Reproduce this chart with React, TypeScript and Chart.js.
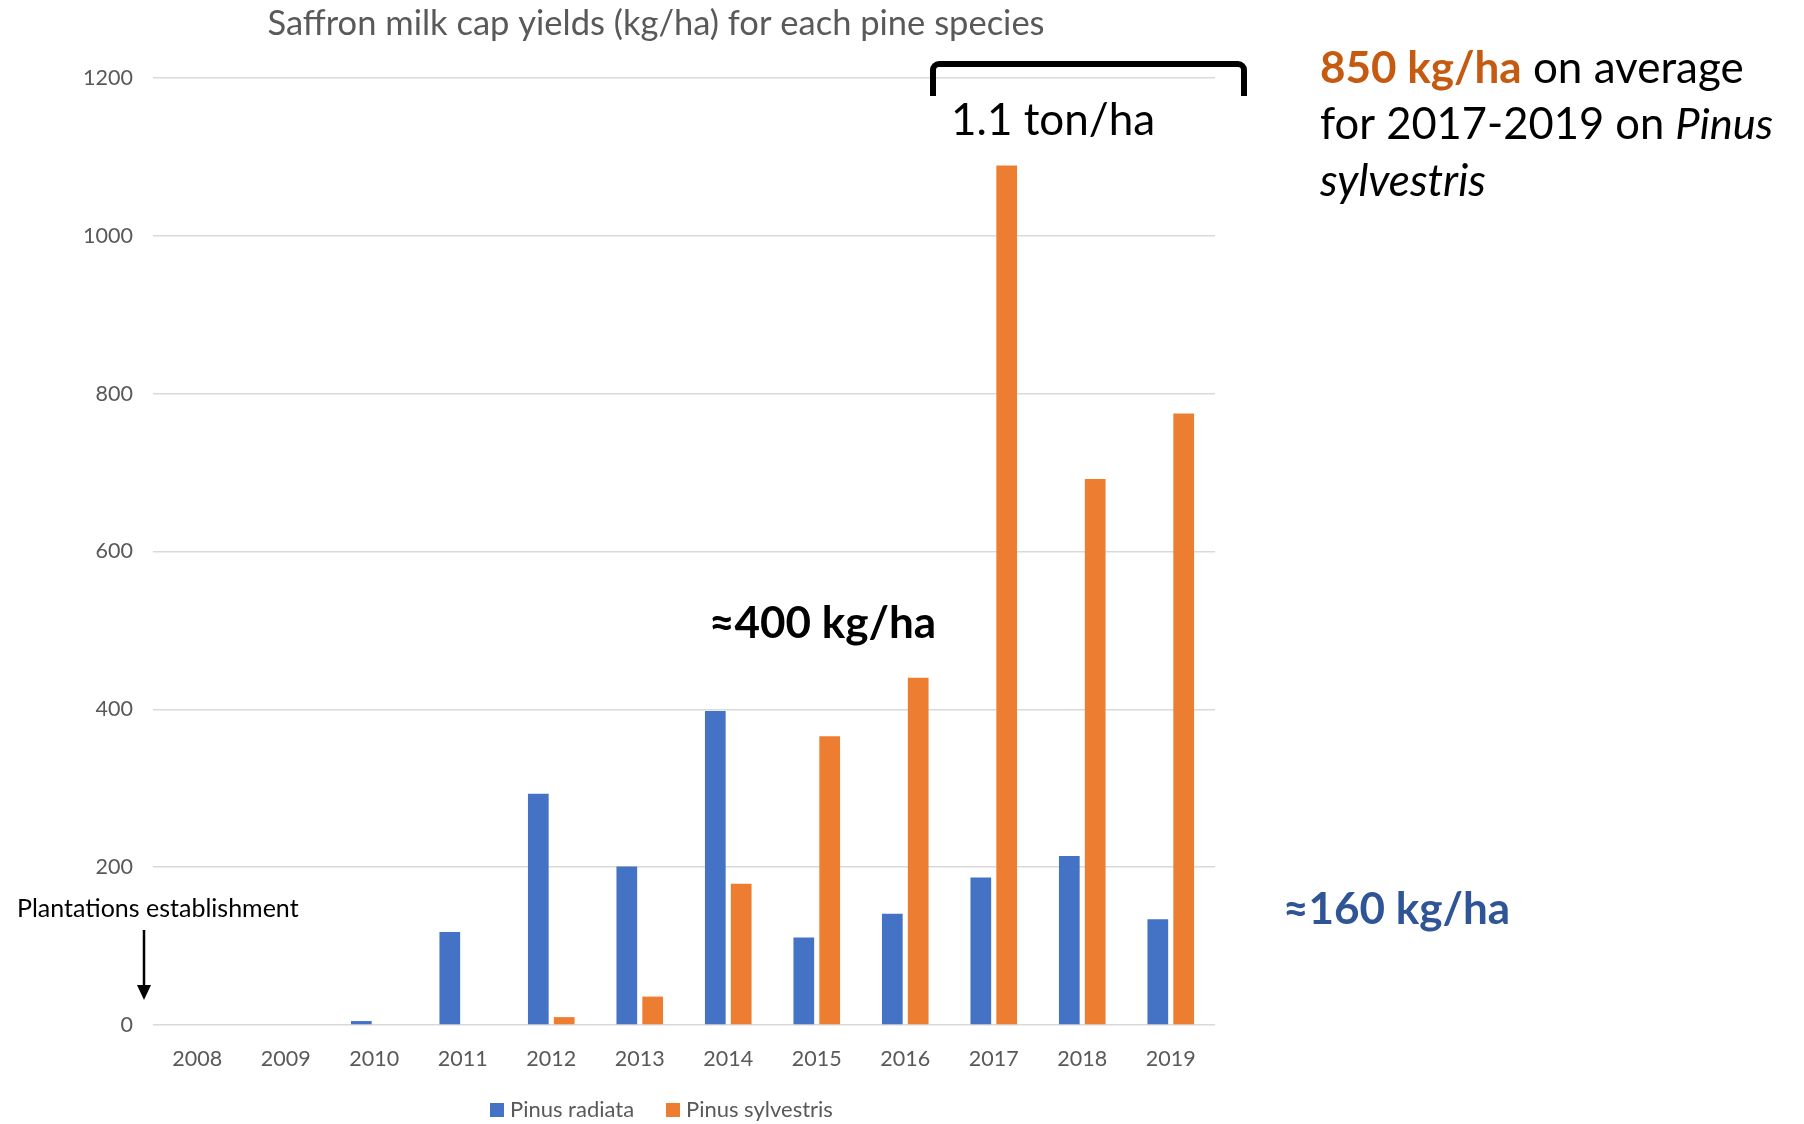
import React, { useEffect, useRef } from "react";
import { Chart, registerables } from "chart.js";

Chart.register(...registerables);

const years = ["2008", "2009", "2010", "2011", "2012", "2013", "2014", "2015", "2016", "2017", "2018", "2019"];
const radiata = [0, 0, 5, 118, 293, 201, 398, 111, 141, 187, 214, 134];
const sylvestris = [0, 0, 0, 0, 10, 36, 179, 366, 440, 1089, 692, 775];
const seriesNames = ["Pinus radiata", "Pinus sylvestris"];
const seriesColors = ["#4472C4", "#ED7D31"];
const yMin = 0;
const yMax = 1200;
const yStep = 200;
const titleText = "Saffron milk cap yields (kg/ha) for each pine species";

const FONT = "Lato, 'Open Sans', 'DejaVu Sans', sans-serif";
const GREY = "#595959";

type Run = { text: string; font: string; color: string };

function drawRuns(ctx: CanvasRenderingContext2D, runs: Run[], x: number, y: number) {
  let cx = x;
  for (const r of runs) {
    ctx.font = r.font;
    ctx.fillStyle = r.color;
    ctx.fillText(r.text, cx, y);
    cx += ctx.measureText(r.text).width;
  }
}

const annotationPlugin = {
  id: "annotations",
  afterDraw(chart: any) {
    const ctx: CanvasRenderingContext2D = chart.ctx;
    ctx.save();
    ctx.textBaseline = "middle";

    // Title
    ctx.textAlign = "center";
    ctx.font = `34.5px ${FONT}`;
    ctx.fillStyle = GREY;
    ctx.fillText(titleText, 656, 24);

    // Legend
    ctx.textAlign = "left";
    ctx.font = `22px ${FONT}`;
    const legendY = 1110;
    const legendX = [490, 666];
    chart.data.datasets.forEach((ds: any, i: number) => {
      ctx.fillStyle = ds.backgroundColor;
      ctx.fillRect(legendX[i], legendY - 7, 14, 14);
      ctx.fillStyle = GREY;
      ctx.fillText(ds.label, legendX[i] + 20, legendY);
    });

    // Bracket
    ctx.strokeStyle = "#000";
    ctx.lineWidth = 6;
    ctx.lineJoin = "round";
    ctx.lineCap = "butt";
    ctx.beginPath();
    ctx.moveTo(933, 96);
    ctx.arcTo(933, 64, 1244, 64, 6);
    ctx.arcTo(1244, 64, 1244, 96, 6);
    ctx.lineTo(1244, 96);
    ctx.stroke();

    // 1.1 ton/ha
    ctx.fillStyle = "#000";
    ctx.font = `44px ${FONT}`;
    ctx.fillText("1.1 ton/ha", 951, 121);

    // Right text block
    drawRuns(ctx, [
      { text: "850 kg/ha", font: `bold 44px ${FONT}`, color: "#C55A11" },
      { text: " on average", font: `44px ${FONT}`, color: "#000" },
    ], 1320, 69);
    drawRuns(ctx, [
      { text: "for 2017-2019 on ", font: `43.5px ${FONT}`, color: "#000" },
      { text: "Pinus", font: `italic 43.5px ${FONT}`, color: "#000" },
    ], 1320, 125);
    drawRuns(ctx, [
      { text: "sylvestris", font: `italic 44px ${FONT}`, color: "#000" },
    ], 1320, 182);

    // ≈400 kg/ha
    ctx.font = `bold 44px ${FONT}`;
    ctx.fillStyle = "#000";
    ctx.fillText("\u2248400 kg/ha", 709, 624);

    // ≈160 kg/ha
    ctx.fillStyle = "#2F5597";
    ctx.fillText("\u2248160 kg/ha", 1283, 910);

    // Plantations establishment
    ctx.font = `25px ${FONT}`;
    ctx.fillStyle = "#000";
    ctx.fillText("Plantations establishment", 17, 909);

    // Arrow
    ctx.lineWidth = 2.5;
    ctx.beginPath();
    ctx.moveTo(144, 930);
    ctx.lineTo(144, 988);
    ctx.stroke();
    ctx.beginPath();
    ctx.moveTo(137, 985);
    ctx.lineTo(151, 985);
    ctx.lineTo(144, 1000);
    ctx.closePath();
    ctx.fill();

    ctx.restore();
  },
};

export default function App() {
  const canvasRef = useRef<HTMLCanvasElement | null>(null);

  useEffect(() => {
    if (!canvasRef.current) return;
    const chart = new Chart(canvasRef.current, {
      type: "bar",
      data: {
        labels: years,
        datasets: [
          {
            label: seriesNames[0],
            data: radiata,
            backgroundColor: seriesColors[0],
            categoryPercentage: 0.585,
            barPercentage: 0.8,
          },
          {
            label: seriesNames[1],
            data: sylvestris,
            backgroundColor: seriesColors[1],
            categoryPercentage: 0.585,
            barPercentage: 0.8,
          },
        ],
      },
      options: {
        responsive: false,
        animation: false,
        devicePixelRatio: 1,
        layout: { padding: { left: 0, top: 78, right: 1804 - 1215, bottom: 0 } },
        plugins: {
          legend: { display: false },
          title: { display: false },
          tooltip: { enabled: false },
        },
        scales: {
          x: {
            grid: { display: false, drawTicks: false },
            border: { display: false },
            ticks: { color: GREY, font: { family: FONT, size: 21.5 }, padding: 21, maxRotation: 0 },
            afterFit: (s: any) => {
              s.height = 99;
            },
          },
          y: {
            min: yMin,
            max: yMax,
            ticks: {
              stepSize: yStep,
              color: GREY,
              font: { family: FONT, size: 21.5 },
              padding: 20,
              callback: (v: any) => String(v),
            },
            grid: { color: "#D9D9D9", lineWidth: 1.5, drawTicks: false },
            border: { display: false },
            afterFit: (s: any) => {
              s.width = 153;
            },
          },
        },
      },
      plugins: [annotationPlugin],
    });
    return () => chart.destroy();
  }, []);

  return (
    <div style={{ position: "fixed", left: 0, top: 0, width: 1804, height: 1124, background: "#fff" }}>
      <canvas ref={canvasRef} width={1804} height={1124} style={{ width: 1804, height: 1124 }} />
    </div>
  );
}
